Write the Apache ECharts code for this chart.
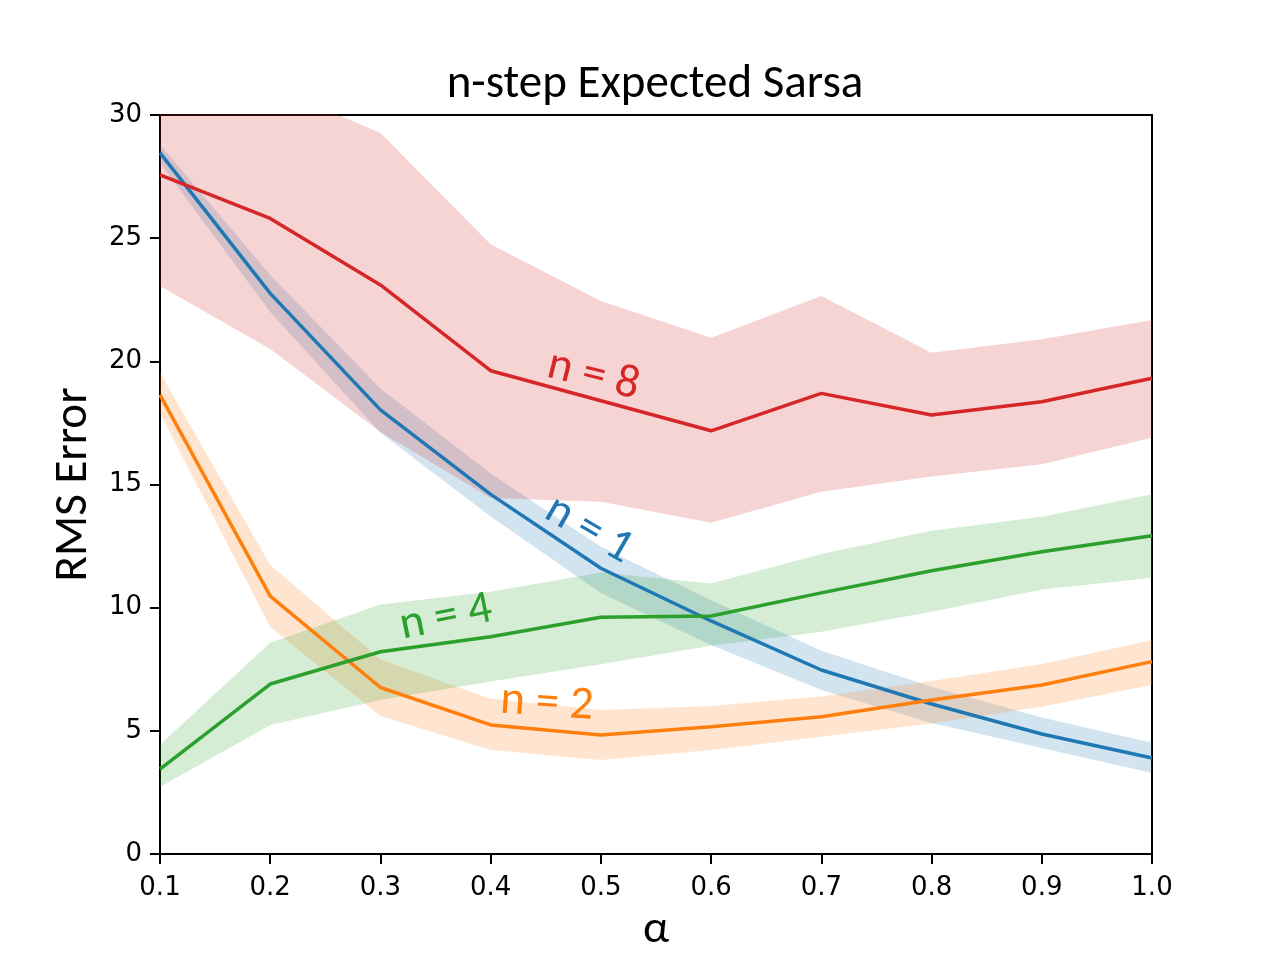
<!DOCTYPE html>
<html>
<head>
<meta charset="utf-8">
<script src="https://cdn.jsdelivr.net/npm/echarts@6/dist/echarts.min.js"></script>
<style>html,body{margin:0;padding:0;background:#fff}#c{width:1280px;height:960px}</style>
</head>
<body>
<div id="c"></div>
<script>
const alphas = ['0.1','0.2','0.3','0.4','0.5','0.6','0.7','0.8','0.9','1.0'];
const yTicks = [0, 5, 10, 15, 20, 25, 30];

const n1Mean  = [28.46, 22.76, 18.03, 14.6, 11.6, 9.46, 7.47, 6.09, 4.87, 3.9];
const n1Upper = [28.8, 23.5, 18.9, 15.45, 12.47, 10.3, 8.25, 6.79, 5.54, 4.52];
const n1Lower = [28.05, 22.0, 17.1, 13.7, 10.6, 8.48, 6.66, 5.32, 4.3, 3.29];

const n2Mean  = [18.64, 10.47, 6.76, 5.24, 4.83, 5.17, 5.57, 6.25, 6.86, 7.81];
const n2Upper = [19.54, 11.73, 7.9, 6.3, 5.85, 6.01, 6.39, 7.02, 7.71, 8.69];
const n2Lower = [17.9, 9.22, 5.6, 4.22, 3.82, 4.22, 4.76, 5.3, 5.98, 6.86];

const n4Mean  = [3.45, 6.9, 8.21, 8.82, 9.61, 9.66, 10.6, 11.5, 12.27, 12.92];
const n4Upper = [4.43, 8.58, 10.13, 10.65, 11.43, 10.98, 12.18, 13.12, 13.69, 14.6];
const n4Lower = [2.72, 5.24, 6.25, 7.0, 7.7, 8.45, 9.02, 9.83, 10.74, 11.21];

const n8Mean  = [27.57, 25.8, 23.1, 19.62, 18.4, 17.18, 18.7, 17.82, 18.36, 19.31];
const n8Upper = [32.0, 31.2, 29.27, 24.75, 22.45, 20.96, 22.65, 20.35, 20.9, 21.68];
const n8Lower = [23.06, 20.5, 17.13, 14.45, 14.3, 13.45, 14.71, 15.32, 15.82, 16.9];

const labelNames = ['n = 1', 'n = 2', 'n = 4', 'n = 8'];
const labelX = [0.489, 0.451, 0.3595, 0.493];
const labelY = [13.15, 6.09, 9.58, 19.4];
const labelRot = [-30, -4, 11.5, -14];

const colors = ['#1f77b4', '#ff7f0e', '#2ca02c', '#d62728'];
const means = [n1Mean, n2Mean, n4Mean, n8Mean];
const uppers = [n1Upper, n2Upper, n4Upper, n8Upper];
const lowers = [n1Lower, n2Lower, n4Lower, n8Lower];

const labelFont = 'Carlito, Calibri, Lato, sans-serif';
const series = [];
for (let k = 0; k < 4; k++) {
  series.push({
    type: 'line', stack: 'band' + k, data: lowers[k], symbol: 'none',
    lineStyle: { opacity: 0 }, silent: true, z: 2
  });
  series.push({
    type: 'line', stack: 'band' + k,
    data: uppers[k].map((u, i) => +(u - lowers[k][i]).toFixed(3)),
    symbol: 'none', lineStyle: { opacity: 0 },
    areaStyle: { color: colors[k], opacity: 0.2 }, silent: true, z: 2
  });
}
for (let k = 0; k < 4; k++) {
  series.push({
    type: 'line', data: means[k], symbol: 'none',
    lineStyle: { color: colors[k], width: 3.5 }, z: 3
  });
}
series.push({
  type: 'scatter', xAxisIndex: 1, symbolSize: 0, silent: true, z: 4,
  itemStyle: { opacity: 1 },
  data: labelNames.map((nm, k) => ({
    value: [labelX[k], labelY[k]],
    itemStyle: { opacity: 1, color: colors[k] },
    label: {
      show: true, position: 'inside', formatter: nm, opacity: 1,
      color: colors[k], fontSize: 47, fontFamily: labelFont, rotate: labelRot[k]
    }
  }))
});

const chart = echarts.init(document.getElementById('c'));
chart.setOption({
  animation: false,
  title: {
    text: 'n-step Expected Sarsa', left: 650, textAlign: 'center', top: 57,
    textStyle: { fontSize: 47, fontWeight: 'normal', color: '#000', fontFamily: labelFont }
  },
  grid: { left: 160, right: 128, top: 115, bottom: 106, show: true, borderColor: '#000', borderWidth: 2, backgroundColor: 'transparent' },
  xAxis: [{
    type: 'category', data: alphas, boundaryGap: false,
    name: 'α', nameLocation: 'middle', nameGap: 53,
    nameTextStyle: { fontSize: 46, color: '#000', fontFamily: labelFont },
    axisLine: { show: true, lineStyle: { color: '#000', width: 2 } },
    axisTick: { show: true, inside: false, length: 10, alignWithLabel: true, lineStyle: { color: '#000', width: 2 } },
    axisLabel: { color: '#000', fontSize: 26, fontFamily: 'DejaVu Sans', margin: 21 },
    splitLine: { show: false }
  }, {
    type: 'value', min: 0.1, max: 1.0, show: false
  }],
  yAxis: {
    type: 'value', min: 0, max: 30, interval: 5,
    name: 'RMS Error', nameLocation: 'middle', nameGap: 62, nameRotate: 90,
    nameTextStyle: { fontSize: 47, color: '#000', fontFamily: labelFont },
    axisLine: { show: true, lineStyle: { color: '#000', width: 2 } },
    axisTick: { show: true, inside: false, length: 10, lineStyle: { color: '#000', width: 2 } },
    axisLabel: { color: '#000', fontSize: 26, fontFamily: 'DejaVu Sans', margin: 18,
      formatter: v => yTicks.includes(v) ? String(v) : '' },
    splitLine: { show: false }
  },
  series: series
});
</script>
</body>
</html>
